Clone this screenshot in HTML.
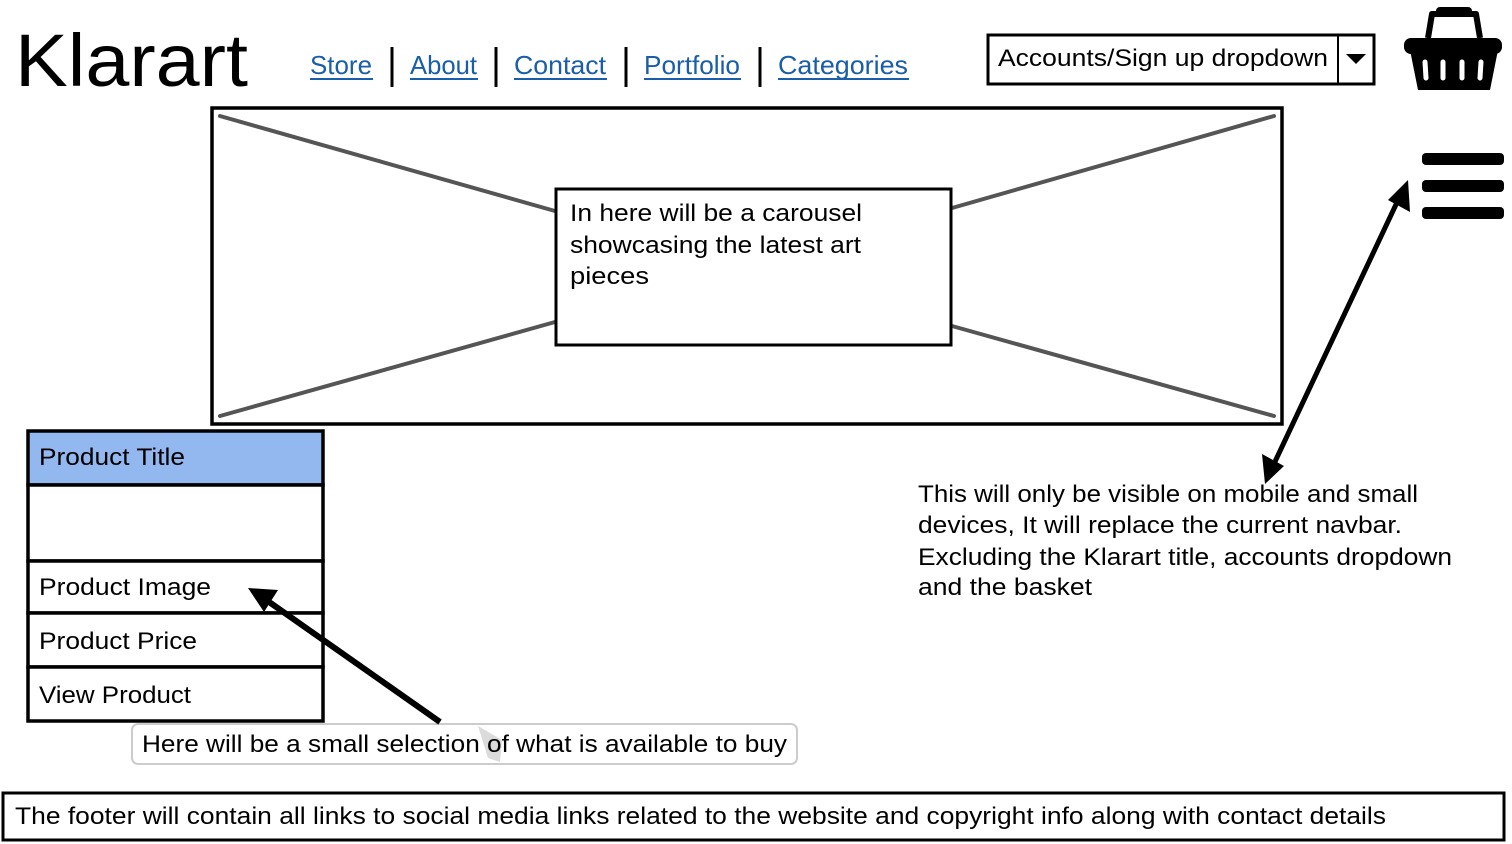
<!DOCTYPE html>
<html><head><meta charset="utf-8"><style>
html,body{margin:0;padding:0;background:#fff;width:1512px;height:844px;overflow:hidden}
svg{display:block}
text{font-family:"Liberation Sans",sans-serif;fill:#000}
</style></head><body>
<svg width="1512" height="844" viewBox="0 0 1512 844" xmlns="http://www.w3.org/2000/svg">
<text x="15" y="86" font-size="74" textLength="233" lengthAdjust="spacingAndGlyphs">Klarart</text>
<g font-size="26">
<text x="310" y="74" style="fill:#1a5da8" textLength="62" lengthAdjust="spacingAndGlyphs">Store</text>
<text x="410" y="74" style="fill:#1a5da8" textLength="67" lengthAdjust="spacingAndGlyphs">About</text>
<text x="514" y="74" style="fill:#1a5da8" textLength="92" lengthAdjust="spacingAndGlyphs">Contact</text>
<text x="644" y="74" style="fill:#1a5da8" textLength="96" lengthAdjust="spacingAndGlyphs">Portfolio</text>
<text x="778" y="74" style="fill:#1a5da8" textLength="130" lengthAdjust="spacingAndGlyphs">Categories</text>
</g>
<g stroke="#1a5da8" stroke-width="2">
<line x1="310" y1="79" x2="373" y2="79"/><line x1="410" y1="79" x2="478" y2="79"/>
<line x1="514" y1="79" x2="607" y2="79"/><line x1="644" y1="79" x2="741" y2="79"/>
<line x1="778" y1="79" x2="909" y2="79"/>
</g>
<g stroke="#000" stroke-width="3">
<line x1="392" y1="47" x2="392" y2="87"/><line x1="496" y1="47" x2="496" y2="87"/>
<line x1="626" y1="47" x2="626" y2="87"/><line x1="760" y1="47" x2="760" y2="87"/>
</g>
<rect x="988" y="35" width="386" height="49" fill="#fff" stroke="#000" stroke-width="3"/>
<line x1="1338" y1="35" x2="1338" y2="84" stroke="#000" stroke-width="2"/>
<polygon points="1346,54 1366,54 1356,64" fill="#000"/>
<text x="998" y="66" font-size="24" textLength="330" lengthAdjust="spacingAndGlyphs">Accounts/Sign up dropdown</text>
<path d="M1428,38 L1432,14 L1476,14 L1480,38" fill="none" stroke="#000" stroke-width="6" stroke-linejoin="round"/>
<rect x="1436" y="7" width="36" height="10" rx="4" fill="#000"/>
<rect x="1404" y="38" width="98" height="16" rx="7" fill="#000"/>
<path d="M1410,50 L1498,50 L1490,90 L1418,90 Z" fill="#000"/>
<g stroke="#fff" stroke-width="5" stroke-linecap="round">
<line x1="1425" y1="62" x2="1426" y2="78"/><line x1="1443" y1="62" x2="1443" y2="78"/>
<line x1="1462" y1="62" x2="1462" y2="78"/><line x1="1481" y1="62" x2="1480" y2="78"/>
</g>
<rect x="212" y="108" width="1070" height="316" fill="#fff" stroke="#000" stroke-width="3.5"/>
<g stroke="#555" stroke-width="4" stroke-linecap="round">
<line x1="220" y1="116" x2="555" y2="211"/><line x1="952" y1="208" x2="1274" y2="116"/>
<line x1="220" y1="416" x2="555" y2="322"/><line x1="952" y1="326" x2="1274" y2="416"/>
</g>
<rect x="556" y="189" width="395" height="156" fill="#fff" stroke="#000" stroke-width="3"/>
<g font-size="24">
<text x="570" y="221" textLength="292" lengthAdjust="spacingAndGlyphs">In here will be a carousel</text>
<text x="570" y="253" textLength="291" lengthAdjust="spacingAndGlyphs">showcasing the latest art</text>
<text x="570" y="284" textLength="79" lengthAdjust="spacingAndGlyphs">pieces</text></g>
<g fill="#000"><rect x="1422" y="153" width="82" height="12" rx="4"/><rect x="1422" y="180" width="82" height="12" rx="4"/><rect x="1422" y="207" width="82" height="12" rx="4"/></g>
<line x1="1400" y1="196" x2="1272" y2="468" stroke="#000" stroke-width="5"/>
<polygon points="1408,180 1410,212 1388,200" fill="#000"/>
<polygon points="1265,484 1262,454 1284,466" fill="#000"/>
<g font-size="24">
<text x="918" y="502" textLength="500" lengthAdjust="spacingAndGlyphs">This will only be visible on mobile and small</text>
<text x="918" y="533" textLength="484" lengthAdjust="spacingAndGlyphs">devices, It will replace the current navbar.</text>
<text x="918" y="565" textLength="534" lengthAdjust="spacingAndGlyphs">Excluding the Klarart title, accounts dropdown</text>
<text x="918" y="595" textLength="174" lengthAdjust="spacingAndGlyphs">and the basket</text></g>
<rect x="28" y="431" width="295" height="54" fill="#93b8f0" stroke="#000" stroke-width="3.5"/>
<rect x="28" y="485" width="295" height="76" fill="#fff" stroke="#000" stroke-width="3.5"/>
<rect x="28" y="561" width="295" height="52" fill="#fff" stroke="#000" stroke-width="3.5"/>
<rect x="28" y="613" width="295" height="54" fill="#fff" stroke="#000" stroke-width="3.5"/>
<rect x="28" y="667" width="295" height="54" fill="#fff" stroke="#000" stroke-width="3.5"/>
<g font-size="24">
<text x="39" y="465" textLength="146" lengthAdjust="spacingAndGlyphs">Product Title</text>
<text x="39" y="595" textLength="172" lengthAdjust="spacingAndGlyphs">Product Image</text>
<text x="39" y="649" textLength="158" lengthAdjust="spacingAndGlyphs">Product Price</text>
<text x="39" y="703" textLength="152" lengthAdjust="spacingAndGlyphs">View Product</text></g>
<rect x="132" y="724" width="665" height="40" rx="6" fill="#fff" stroke="#ccc" stroke-width="2"/>
<line x1="440" y1="722" x2="262" y2="597" stroke="#000" stroke-width="6"/>
<polygon points="248,588 278,590 264,612" fill="#000"/>
<polygon points="478,726 502,740 500,762 488,758" fill="#ccc" opacity="0.7"/>
<text x="142" y="752" font-size="24" textLength="645" lengthAdjust="spacingAndGlyphs">Here will be a small selection of what is available to buy</text>
<rect x="3" y="793" width="1501" height="47" fill="#fff" stroke="#000" stroke-width="3"/>
<text x="15" y="824" font-size="24" textLength="1371" lengthAdjust="spacingAndGlyphs">The footer will contain all links to social media links related to the website and copyright info along with contact details</text>
</svg>
</body></html>
